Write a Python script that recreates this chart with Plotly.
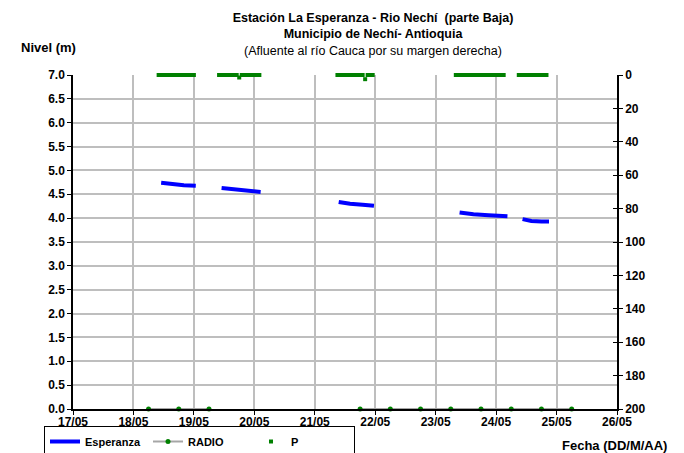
import pandas as pd
import plotly.graph_objects as go

# ---------------- data ----------------
# Nivel (m) - Esperanza, segments separated by None
esp_time = [
    "2010-05-18 11:00", "2010-05-18 15:00", "2010-05-18 20:00", "2010-05-19 00:45", None,
    "2010-05-19 11:00", "2010-05-19 16:00", "2010-05-19 21:00", "2010-05-20 02:30", None,
    "2010-05-21 09:30", "2010-05-21 14:00", "2010-05-21 19:00", "2010-05-21 23:30", None,
    "2010-05-23 09:30", "2010-05-23 15:00", "2010-05-23 21:00", "2010-05-24 04:30", None,
    "2010-05-24 10:30", "2010-05-24 14:00", "2010-05-24 18:00", "2010-05-24 21:00",
]
esp_level = [
    4.74, 4.71, 4.69, 4.68, None,
    4.63, 4.60, 4.58, 4.55, None,
    4.34, 4.30, 4.28, 4.26, None,
    4.12, 4.08, 4.06, 4.04, None,
    3.98, 3.94, 3.93, 3.93,
]

# RADIO readings (level axis)
radio_time = [
    "2010-05-18 06:00", "2010-05-18 18:00", "2010-05-19 06:00", None,
    "2010-05-21 18:00", "2010-05-22 06:00", "2010-05-22 18:00", "2010-05-23 06:00",
    "2010-05-23 18:00", "2010-05-24 06:00", "2010-05-24 18:00", "2010-05-25 06:00",
]
radio_level = [0.0, 0.0, 0.0, None, 0.0, 0.0, 0.0, 0.0, 0.0, 0.0, 0.0, 0.0]

# P (precipitation, right axis) - hourly segments: start time + hourly values
p_seg_starts = ["2010-05-18 10:00", "2010-05-19 10:00", "2010-05-21 09:00",
                "2010-05-23 08:00", "2010-05-24 09:00"]
p_seg_values = [
    [0, 0, 0, 0, 0, 0, 0, 0, 0, 0, 0, 0, 0, 0, 0],
    [0, 0, 0, 0, 0, 0, 0, 0, 1.5, 0, 0, 0, 0, 0, 0, 0, 0],
    [0, 0, 0, 0, 0, 0, 0, 0, 0, 0, 0, 2.5, 0, 0, 0],
    [0, 0, 0, 0, 0, 0, 0, 0, 0, 0, 0, 0, 0, 0, 0, 0, 0, 0, 0, 0],
    [0, 0, 0, 0, 0, 0, 0, 0, 0, 0, 0, 0],
]

x_ticks = ["2010-05-17", "2010-05-18", "2010-05-19", "2010-05-20", "2010-05-21",
           "2010-05-22", "2010-05-23", "2010-05-24", "2010-05-25", "2010-05-26"]
x_tick_labels = ["17/05", "18/05", "19/05", "20/05", "21/05",
                 "22/05", "23/05", "24/05", "25/05", "26/05"]
y_ticks = [0.0, 0.5, 1.0, 1.5, 2.0, 2.5, 3.0, 3.5, 4.0, 4.5, 5.0, 5.5, 6.0, 6.5, 7.0]
y2_ticks = [0, 20, 40, 60, 80, 100, 120, 140, 160, 180, 200]

# ---------------- build ----------------
p_time, p_vals = [], []
for start, vals in zip(p_seg_starts, p_seg_values):
    t0 = pd.Timestamp(start)
    for i, v in enumerate(vals):
        p_time.append(t0 + pd.Timedelta(hours=i))
        p_vals.append(v)

FONT = "Liberation Sans, Arial, sans-serif"
GRID = "#BEBEBE"
L, R, T, B = 73, 67, 75, 44
PW, PH = 684 - L - R, 453 - T - B


def bold(s):
    return f"<b>{s}</b>"


fig = go.Figure()
fig.add_trace(go.Scatter(
    x=esp_time, y=esp_level, name=bold("Esperanza"), mode="lines",
    line=dict(color="#0000FF", width=4), connectgaps=False, yaxis="y"))
fig.add_trace(go.Scatter(
    x=radio_time, y=radio_level, name=bold("RADIO"), mode="lines+markers",
    line=dict(color="#A6A6A6", width=2), marker=dict(color="#008000", size=5),
    connectgaps=False, cliponaxis=False, yaxis="y"))
fig.add_trace(go.Scatter(
    x=p_time, y=p_vals, name=bold("P"), mode="markers",
    marker=dict(color="#008000", size=4, symbol="square"),
    cliponaxis=False, yaxis="y2"))
# empty trace so that the inner tick marks of the right axis are drawn
fig.add_trace(go.Scatter(x=[None], y=[None], yaxis="y3", showlegend=False,
                         hoverinfo="skip"))

fig.update_layout(
    width=684, height=453,
    margin=dict(l=L, r=R, t=T, b=B, autoexpand=False),
    paper_bgcolor="white", plot_bgcolor="white",
    font=dict(family=FONT, size=11, color="black"),
    title=dict(
        text="<b>Estación La Esperanza - Rio Nechí  (parte Baja)</b><br>"
             "<b>Municipio de Nechí- Antioquia</b><br>"
             "(Afluente al río Cauca por su margen derecha)",
        x=373 / 684, xanchor="center", xref="container",
        y=1 - 22 / 453, yanchor="top", yref="container",
        font=dict(family=FONT, size=12.5, color="black")),
    xaxis=dict(
        type="date", range=["2010-05-17", "2010-05-26"],
        tickvals=x_ticks, ticktext=[bold(t) for t in x_tick_labels],
        tickfont=dict(family=FONT, size=12, color="black"),
        showline=True, linecolor="black", linewidth=1.5,
        ticks="outside", ticklen=4, tickcolor="black",
        ticklabelstandoff=-3,
        showgrid=True, gridcolor=GRID, gridwidth=1.5, zeroline=False),
    yaxis=dict(
        range=[0, 7.0], tickvals=y_ticks,
        ticktext=[bold(f"{v:.1f}") for v in y_ticks],
        tickfont=dict(family=FONT, size=12, color="black"),
        showline=True, linecolor="black", linewidth=1.5,
        ticks="outside", ticklen=4, tickcolor="black",
        showgrid=True, gridcolor=GRID, gridwidth=1.5, zeroline=False),
    yaxis2=dict(
        range=[200, 0], tickvals=y2_ticks, ticktext=[bold(str(v)) for v in y2_ticks],
        overlaying="y", side="right",
        tickfont=dict(family=FONT, size=12, color="black"),
        showline=True, linecolor="black", linewidth=1.5,
        ticks="outside", ticklen=4, tickcolor="black",
        showgrid=False, zeroline=False),
    yaxis3=dict(
        range=[200, 0], tickvals=y2_ticks, overlaying="y", side="right",
        anchor="x", showticklabels=False,
        ticks="inside", ticklen=4, tickcolor="black",
        showline=False, showgrid=False, zeroline=False),
    legend=dict(
        orientation="h", x=(44 - L) / PW, y=-(426 - (T + PH)) / PH,
        xanchor="left", yanchor="top",
        bordercolor="black", borderwidth=1, bgcolor="white",
        font=dict(family=FONT, size=11, color="black"),
        itemwidth=30, tracegroupgap=0,
        entrywidth=58, entrywidthmode="pixels"),
    annotations=[
        dict(text="<b>Nivel (m)</b>", xref="paper", yref="paper",
             x=(19 - L) / PW, y=(T + PH - 47) / PH, xanchor="left", yanchor="middle",
             showarrow=False, font=dict(family=FONT, size=13, color="black")),
        dict(text="<b>Fecha (DD/M/AA)</b>", xref="paper", yref="paper",
             x=(669 - L) / PW, y=(T + PH - 445) / PH, xanchor="right", yanchor="middle",
             showarrow=False, font=dict(family=FONT, size=13, color="black")),
    ],
    showlegend=True,
)

fig.write_html("out.html",
               config={"displayModeBar": False},
               post_script="document.body.style.margin='0px';"
                           "document.body.style.overflow='hidden';")
